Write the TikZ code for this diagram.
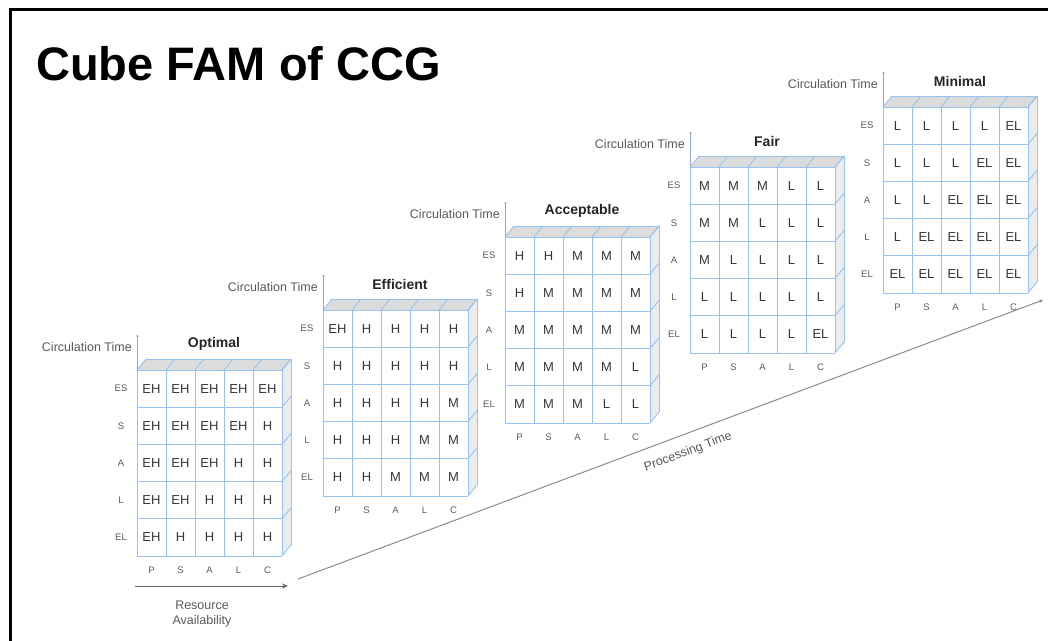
\documentclass[tikz,border=0pt]{standalone}
\usepackage{fontspec}
\setmainfont{Liberation Sans}
\usetikzlibrary{arrows.meta}

\definecolor{gridblue}{RGB}{150,195,242}
\definecolor{topfill}{RGB}{220,220,220}
\definecolor{sidefill}{RGB}{236,236,236}
\definecolor{celltext}{RGB}{55,55,55}
\definecolor{labeltext}{RGB}{90,90,90}
\definecolor{axisgray}{RGB}{100,100,100}
\definecolor{vaxis}{RGB}{150,170,200}

\tikzset{
  cubeline/.style={draw=gridblue, line width=0.9pt},
  cellval/.style={inner sep=0pt, text=celltext, font=\fontsize{13}{14}\selectfont},
  rowlab/.style={inner sep=0pt, text=labeltext, font=\fontsize{9.5}{10}\selectfont},
  collab/.style={inner sep=0pt, text=labeltext, font=\fontsize{9.5}{10}\selectfont},
  axislab/.style={inner sep=0pt, text=labeltext, font=\fontsize{12.5}{15}\selectfont},
  cubetitle/.style={inner sep=0pt, text=black!85, font=\bfseries\fontsize{14}{16}\selectfont},
  flowaxis/.style={draw=axisgray, line width=1pt, -{Stealth[length=6pt,width=5pt]}},
  timeaxis/.style={draw=vaxis, line width=0.6pt, -{Circle[length=2.2pt]}},
}

% One cube of the FAM: #1 name, #2 front top-left corner, #3 title, #4 cell values row by row
\newcommand\famcube[4]{%
\begin{scope}[shift={#2}]
  % side and top faces
  \fill[sidefill] (145,0) -- (154,-11) -- (154,175) -- (145,186) -- cycle;
  \fill[topfill] (0,0) -- (9,-11) -- (154,-11) -- (145,0) -- cycle;
  \fill[white] (0,0) rectangle (145,186);
  % grid of the front face
  \foreach \k in {0,...,5} {
    \draw[cubeline] (\k*29,0) -- (\k*29,186);
    \draw[cubeline] (0,\k*37.2) -- (145,\k*37.2);
    \draw[cubeline] (\k*29,0) -- (\k*29+9,-11);
    \draw[cubeline] (145,\k*37.2) -- (154,\k*37.2-11);
  }
  \draw[cubeline] (9,-11) -- (154,-11) -- (154,175);
  % cell values
  \foreach \vals [count=\r] in {#4} {
    \foreach \v [count=\c] in \vals {
      \node[cellval] (#1-\r-\c) at (\c*29-14.5,\r*37.2-18.6) {\v};
    }
  }
  % row and column labels
  \foreach \t [count=\r] in {ES,S,A,L,EL}
    \node[rowlab] (#1-row\r) at (-16,\r*37.2-18.6) {\t};
  \foreach \t [count=\c] in {P,S,A,L,C}
    \node[collab] (#1-col\c) at (\c*29-14.5,200) {\t};
  % circulation time axis and title
  \coordinate (#1-base) at (0.5,0);
  \coordinate (#1-tip) at (0.5,-35);
  \draw[timeaxis] (#1-base) -- (#1-tip);
  \node[axislab, anchor=east] (#1-ct) at (-5,-23) {Circulation Time};
  \node[cubetitle] (#1-title) at (77,-26) {#3};
\end{scope}}

\begin{document}
\begin{tikzpicture}[x=1pt,y=-1pt]
\useasboundingbox (0,0) rectangle (1048,640);
\fill[white] (0,0) rectangle (1048,640);
% frame
\draw[line width=3pt, black] (10,645) -- (10,9) -- (1055,9);

% heading
\node[anchor=west, inner sep=0pt, font=\bfseries\fontsize{47}{50}\selectfont] (heading) at (36,64) {Cube FAM of CCG};

\famcube{opt}{(137,370)}{Optimal}{
  {EH,EH,EH,EH,EH},{EH,EH,EH,EH,H},{EH,EH,EH,H,H},{EH,EH,H,H,H},{EH,H,H,H,H}}
\famcube{eff}{(323,310)}{Efficient}{
  {EH,H,H,H,H},{H,H,H,H,H},{H,H,H,H,M},{H,H,H,M,M},{H,H,M,M,M}}
\famcube{acc}{(505,237)}{Acceptable}{
  {H,H,M,M,M},{H,M,M,M,M},{M,M,M,M,M},{M,M,M,M,L},{M,M,M,L,L}}
\famcube{fair}{(690,167)}{Fair}{
  {M,M,M,L,L},{M,M,L,L,L},{M,L,L,L,L},{L,L,L,L,L},{L,L,L,L,EL}}
\famcube{min}{(883,107)}{Minimal}{
  {L,L,L,L,EL},{L,L,L,EL,EL},{L,L,EL,EL,EL},{L,EL,EL,EL,EL},{EL,EL,EL,EL,EL}}

% resource availability axis
\coordinate (ra0) at (135,586);
\coordinate (ra1) at (288,586);
\draw[flowaxis] (ra0) -- (ra1);
\node[axislab, align=center] (ralab) at (202,614) {Resource\\Availability};

% processing time axis
\coordinate (pt0) at (298,579);
\coordinate (pt1) at (1043,300);
\draw[flowaxis, draw=axisgray!75, -{Stealth[length=4pt,width=3.5pt]}] (pt0) -- (pt1);
\node[axislab, rotate=20.5] (ptlab) at (688,452) {Processing Time};
\end{tikzpicture}
\end{document}
